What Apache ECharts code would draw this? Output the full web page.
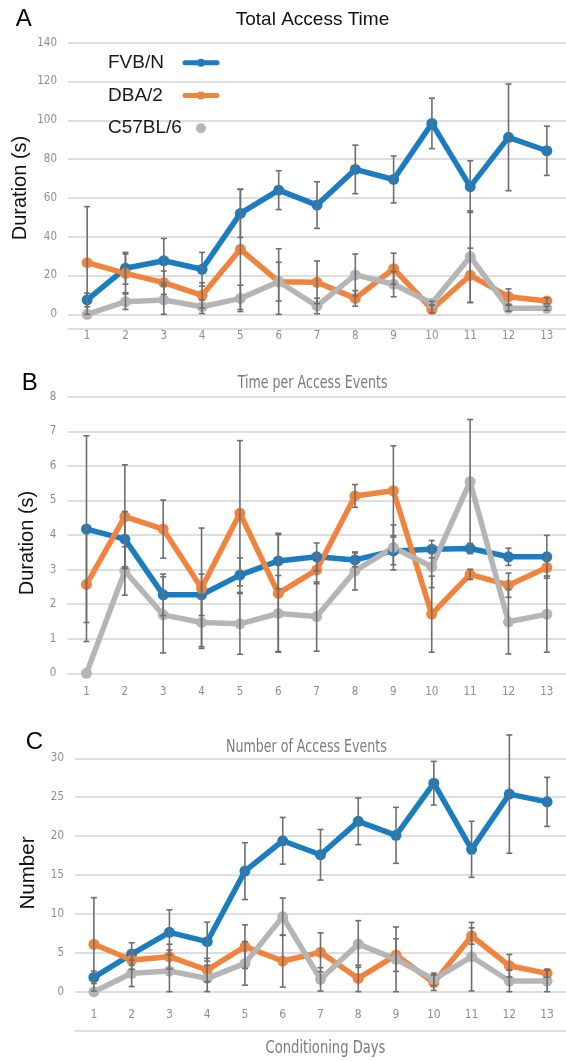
<!DOCTYPE html>
<html>
<head>
<meta charset="utf-8">
<script src="https://cdn.jsdelivr.net/npm/echarts@6/dist/echarts.min.js"></script>
<style>
html,body{margin:0;padding:0;background:#fff}
#main{width:566px;height:1061px}
</style>
</head>
<body>
<div id="main"></div>
<script>
var days = ['1','2','3','4','5','6','7','8','9','10','11','12','13'];
var strains = ['FVB/N','DBA/2','C57BL/6'];
var colors = ['#1c7cc0','#f0843e','#b5b5b5'];

// A - total access time (s)
var totFvb    = [7.4, 23.7, 27.6, 23.2, 52.0, 64.0, 56.3, 74.7, 69.5, 98.4, 65.8, 91.2, 84.3];
var totFvbErr = [3.5, 8.2, 11.5, 8.7, 12.4, 10.0, 12.0, 12.5, 12.1, 13.0, 13.3, 27.5, 12.7];
var totDba    = [26.6, 21.1, 16.3, 9.8, 33.5, 16.8, 16.5, 8.2, 23.5, 2.6, 20.1, 9.1, 6.9];
var totDbaErr = [28.9, 10.0, 6.0, 6.5, 31.0, 17.0, 11.0, 4.0, 8.0, 2.0, 14.0, 4.0, 1.5];
var totC57    = [0, 6.5, 7.4, 3.9, 8.2, 16.8, 4.3, 20.3, 15.5, 5.7, 29.7, 3.1, 3.1];
var totC57Err = [0, 4.0, 7.5, 3.5, 6.8, 10.0, 4.0, 10.8, 6.5, 1.0, 23.6, 1.5, 1.0];

// B - time per access event (s)
var perFvb    = [4.17, 3.88, 2.27, 2.27, 2.84, 3.25, 3.37, 3.28, 3.54, 3.59, 3.61, 3.37, 3.37];
var perFvbErr = [2.70, 0.80, 0.60, 0.60, 0.50, 0.80, 0.40, 0.20, 0.40, 0.25, 0.15, 0.25, 0.62];
var perDba    = [2.57, 4.53, 4.17, 2.46, 4.63, 2.31, 2.99, 5.13, 5.28, 1.71, 2.86, 2.55, 3.06];
var perDbaErr = [1.65, 1.50, 0.84, 1.74, 2.10, 1.70, 0.40, 0.33, 1.30, 1.10, 0.15, 0.35, 0.25];
var perC57    = [0, 2.96, 1.69, 1.47, 1.43, 1.73, 1.64, 2.96, 3.64, 3.08, 5.54, 1.49, 1.71];
var perC57Err = [0, 0.70, 1.10, 0.70, 0.88, 1.10, 1.00, 0.55, 0.65, 0.60, 1.80, 0.93, 1.10];

// C - number of access events
var numFvb    = [1.84, 4.84, 7.63, 6.43, 15.5, 19.4, 17.6, 21.9, 20.1, 26.8, 18.3, 25.4, 24.4];
var numFvbErr = [0.8, 1.45, 2.9, 2.5, 3.65, 3.0, 3.25, 3.0, 3.6, 2.8, 3.6, 7.6, 3.15];
var numDba    = [6.09, 4.07, 4.5, 2.79, 5.79, 3.94, 5.06, 1.71, 4.71, 1.16, 7.16, 3.34, 2.36];
var numDbaErr = [6.0, 1.2, 1.6, 1.5, 2.8, 3.35, 2.5, 1.7, 2.1, 1.0, 1.05, 1.45, 0.5];
var numC57    = [0, 2.36, 2.66, 1.71, 3.64, 9.64, 1.59, 6.13, 4.16, 1.59, 4.5, 1.37, 1.37];
var numC57Err = [0, 1.7, 2.7, 1.7, 2.8, 2.4, 1.5, 3.0, 4.16, 0.8, 4.4, 1.4, 1.4];

var narrow = "'Liberation Sans Narrow', 'DejaVu Sans Condensed', 'Liberation Sans', sans-serif";
var arial = "'Liberation Sans', Arial, sans-serif";
var tickGray = '#8e8e8e';

var myChart = echarts.init(document.getElementById('main'));

function lineSeries(idx, k, vals) {
	return {
		name: strains[k],
		type: 'line',
		xAxisIndex: idx,
		yAxisIndex: idx,
		data: vals,
		symbol: 'circle',
		symbolSize: 11,
		lineStyle: { width: 5.5, color: colors[k], cap: 'round', join: 'round' },
		itemStyle: { color: colors[k] },
		z: 2
	};
}

//误差线
function errSeries(idx, vals, errs) {
	var data = [];
	for (var i = 0; i < vals.length; i++) {
		data.push([i, Math.max(0, vals[i] - errs[i]), vals[i] + errs[i]]);
	}
	return {
		type: 'custom',
		xAxisIndex: idx,
		yAxisIndex: idx,
		data: data,
		encode: { x: 0, y: [1, 2] },
		silent: true,
		z: 3,
		renderItem: function (params, api) {
			var hi = api.coord([api.value(0), api.value(2)]);
			var lo = api.coord([api.value(0), api.value(1)]);
			var w = 3;
			var st = { stroke: '#6e6e6e', lineWidth: 1.6 };
			if (api.value(2) - api.value(1) <= 0) return null;
			return {
				type: 'group',
				children: [
					{ type: 'line', shape: { x1: hi[0], y1: hi[1], x2: lo[0], y2: lo[1] }, style: st },
					{ type: 'line', shape: { x1: hi[0] - w, y1: hi[1], x2: hi[0] + w, y2: hi[1] }, style: st },
					{ type: 'line', shape: { x1: lo[0] - w, y1: lo[1], x2: lo[0] + w, y2: lo[1] }, style: st }
				]
			};
		}
	};
}

function yAxis(idx, max, step) {
	return {
		gridIndex: idx,
		type: 'value',
		min: 0,
		max: max,
		interval: step,
		axisLine: { show: false },
		axisTick: { show: false },
		axisLabel: { color: tickGray, fontSize: 11.5, fontFamily: narrow, margin: 11 },
		splitLine: { lineStyle: { color: '#dedede', width: 2 } }
	};
}

//文字，sx为横向压缩比例
function txt(text, x, y, size, color, font, rot, sx) {
	return {
		type: 'text',
		x: x,
		y: y,
		rotation: rot || 0,
		scaleX: sx || 1,
		style: {
			text: text,
			fontSize: size,
			fontFamily: font,
			fill: color,
			align: 'center',
			verticalAlign: 'middle'
		}
	};
}

var option = {
	animation: false,
	backgroundColor: '#fff',
	grid: [
		{ left: 68, right: -4, top: 42.7, height: 271.6 },
		{ left: 67.3, right: -3, top: 396.7, height: 276.6 },
		{ left: 75, right: -5, top: 758.3, height: 233.4 }
	],
	xAxis: [
		{
			gridIndex: 0, type: 'category', data: days, boundaryGap: true, offset: 14.5,
			axisLine: { show: true, onZero: false, lineStyle: { color: '#dedede', width: 2 } },
			axisTick: { show: false },
			axisLabel: { color: tickGray, fontSize: 11.5, fontFamily: narrow, margin: 1 }
		},
		{
			gridIndex: 1, type: 'category', data: days, boundaryGap: true,
			axisLine: { show: false },
			axisTick: { show: false },
			axisLabel: { color: tickGray, fontSize: 11.5, fontFamily: narrow, margin: 13 }
		},
		{
			gridIndex: 2, type: 'category', data: days, boundaryGap: true, offset: 39,
			axisLine: { show: true, onZero: false, lineStyle: { color: '#dedede', width: 2 } },
			axisTick: { show: false },
			axisLabel: { color: tickGray, fontSize: 12, fontFamily: narrow, inside: true, margin: 10 }
		}
	],
	yAxis: [yAxis(0, 140, 20), yAxis(1, 8, 1), yAxis(2, 30, 5)],
	legend: {
		orient: 'vertical',
		left: 108,
		top: 53.3,
		padding: 0,
		align: 'right',
		itemWidth: 32,
		itemHeight: 10,
		itemGap: 13.7,
		selectedMode: false,
		lineStyle: { width: 5, cap: 'round' },
		formatter: '{n|{name}}',
		textStyle: {
			color: '#1a1a1a',
			rich: { n: { width: 72, align: 'left', fontSize: 19, fontFamily: arial, color: '#1a1a1a', lineHeight: 20 } }
		},
		data: [{ name: 'FVB/N' }, { name: 'DBA/2' }, { name: 'C57BL/6', icon: 'circle' }]
	},
	graphic: [
		txt('A', 23.8, 19.5, 24, '#000', arial),
		txt('B', 29.8, 383, 24, '#000', arial),
		txt('C', 34.3, 742, 24, '#000', arial),
		txt('Total Access Time', 312.5, 19.5, 19, '#111', arial),
		txt('Time per Access Events', 312.6, 383.3, 18, '#7a7a7a', narrow, 0, 0.78),
		txt('Number of Access Events', 306.4, 747, 18, '#7a7a7a', narrow, 0, 0.78),
		txt('Conditioning Days', 325.5, 1048, 18, '#7a7a7a', narrow, 0, 0.81),
		txt('Duration (s)', 20.6, 188, 20, '#111', arial, Math.PI / 2),
		txt('Duration (s)', 27, 543, 20, '#111', arial, Math.PI / 2),
		txt('Number', 28.2, 873, 20.5, '#111', arial, Math.PI / 2)
	],
	series: [
		lineSeries(0, 0, totFvb), lineSeries(0, 1, totDba), lineSeries(0, 2, totC57),
		errSeries(0, totFvb, totFvbErr), errSeries(0, totDba, totDbaErr), errSeries(0, totC57, totC57Err),
		lineSeries(1, 0, perFvb), lineSeries(1, 1, perDba), lineSeries(1, 2, perC57),
		errSeries(1, perFvb, perFvbErr), errSeries(1, perDba, perDbaErr), errSeries(1, perC57, perC57Err),
		lineSeries(2, 0, numFvb), lineSeries(2, 1, numDba), lineSeries(2, 2, numC57),
		errSeries(2, numFvb, numFvbErr), errSeries(2, numDba, numDbaErr), errSeries(2, numC57, numC57Err)
	]
};
myChart.setOption(option);
</script>
</body>
</html>
